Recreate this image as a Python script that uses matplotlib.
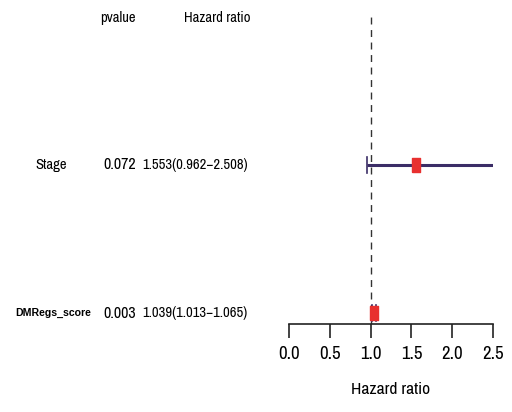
import matplotlib.pyplot as plt

plt.rcParams['font.family'] = ['Archivo Narrow', 'Roboto Condensed', 'DejaVu Sans']

# data
variables = ['Stage', 'DMRegs_score']
pvalues = ['0.072', '0.003']
hr = [1.553, 1.039]
hr_low = [0.962, 1.013]
hr_high = [2.508, 1.065]
rows = [2, 1]
xticks = [0.0, 0.5, 1.0, 1.5, 2.0, 2.5]

fig = plt.figure(figsize=(5.12, 4.12), dpi=100)

# forest panel
ax = fig.add_axes([289/512, 1-324/412, 204/512, 312/412])
ax.set_xlim(0, 2.5)
ax.set_ylim(1 - 11/148, 2 + 153/148)
ax.axvline(1.0, color='#333333', lw=1, ls=(0, (5, 4)))

box = [(-0.6, -1), (0.6, -1), (0.6, 1), (-0.6, 1), (-0.6, -1)]
for i in range(len(variables)):
    y = rows[i]
    ax.plot([hr_low[i], hr_high[i]], [y, y], color='#3b2d66', lw=2.2, solid_capstyle='butt')
    ax.plot([hr_low[i], hr_low[i]], [y-0.055, y+0.055], color='#3b2d66', lw=1.2)
    ax.plot([hr_high[i], hr_high[i]], [y-0.055, y+0.055], color='#3b2d66', lw=1.2)
    ax.plot(hr[i], y, marker=box, markersize=10, color='#e8302f', mec='#e8302f')

for s in ['top', 'right', 'left']:
    ax.spines[s].set_visible(False)
ax.spines['bottom'].set_linewidth(1.2)
ax.spines['bottom'].set_color('#222222')
ax.set_yticks([])
ax.set_xticks(xticks)
ax.set_xticklabels(['%.1f' % t for t in xticks], fontsize=13.5)
ax.tick_params(axis='x', length=10, width=1.2, color='#222222', pad=6)
ax.set_xlabel('Hazard ratio', fontsize=12.5, labelpad=14)

# text columns
def fy(py):
    return 1 - py/412

fig.text(118/512, fy(18), 'pvalue', ha='center', va='center', fontsize=10.5)
fig.text(217/512, fy(18), 'Hazard ratio', ha='center', va='center', fontsize=10.5)

row_px = [165, 313]
for i in range(len(variables)):
    if variables[i] == 'DMRegs_score':
        fig.text(53/512, fy(row_px[i]), variables[i], ha='center', va='center',
                 fontsize=7.6, fontweight='bold', family=['Liberation Sans', 'DejaVu Sans'])
    else:
        fig.text(51/512, fy(row_px[i]), variables[i], ha='center', va='center', fontsize=10.5)
    fig.text(120/512, fy(row_px[i]), pvalues[i], ha='center', va='center', fontsize=11.5)
    fig.text(248/512, fy(row_px[i]), '%.3f(%.3f\u2212%.3f)' % (hr[i], hr_low[i], hr_high[i]),
             ha='right', va='center', fontsize=10.5)

fig.savefig('out.png', dpi=100)
